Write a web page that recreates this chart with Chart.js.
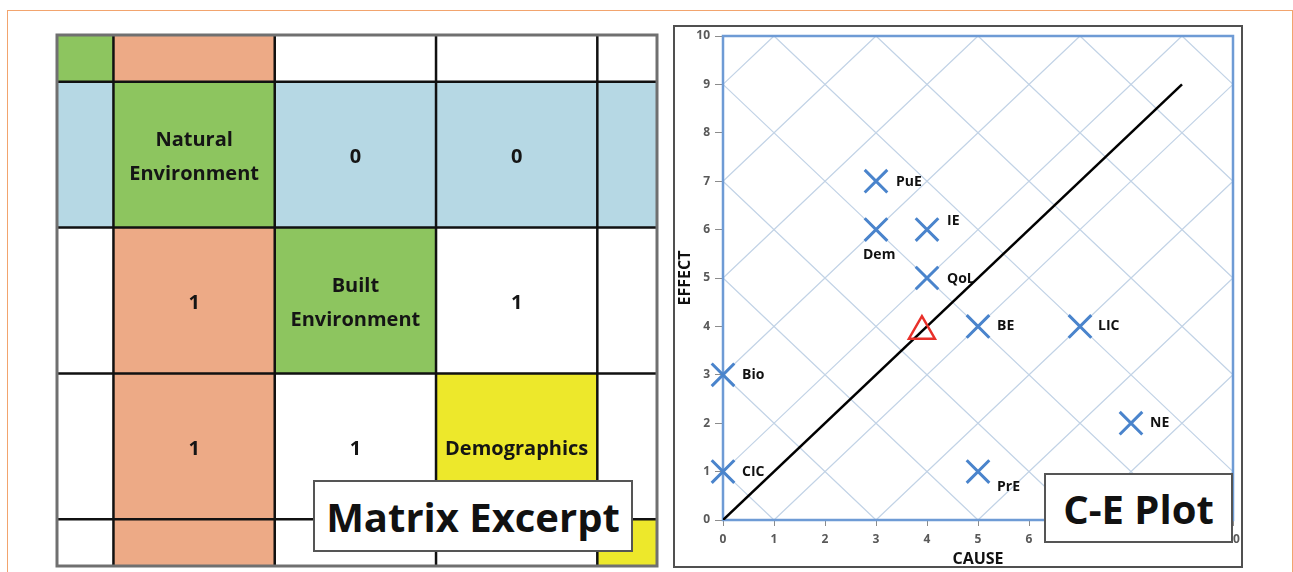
<!DOCTYPE html>
<html>
<head>
<meta charset="utf-8">
<script src="https://cdn.jsdelivr.net/npm/chart.js@4"></script>
<style>
  html, body { margin: 0; padding: 0; background: #fff; overflow: hidden; }
  body { width: 1293px; height: 572px; position: relative; font-family: 'Open Sans', sans-serif; }
  .page { position: absolute; left: 7px; top: 10px; width: 1286px; height: 600px; border: 1.5px solid #F2A46E; border-bottom: none; box-sizing: border-box; }
  #matrix { position: absolute; left: 50px; top: 28px; }
  .frame { position: absolute; left: 673px; top: 25px; width: 570px; height: 543px; border: 2px solid #505050; box-sizing: border-box; }
  #cePlot { position: absolute; left: 663px; top: 17px; }
  .tag { position: absolute; background: #fff; border: 2px solid #555; box-sizing: border-box;
         font-weight: 700; font-size: 40px; color: #111; display: flex; align-items: center; justify-content: center; }
</style>
</head>
<body>
<div class="page"></div>
<canvas id="matrix" width="614" height="544"></canvas>
<div class="tag" style="left:313px; top:480px; width:320px; height:72px;">Matrix Excerpt</div>
<div class="frame"></div>
<canvas id="cePlot" width="590" height="555"></canvas>
<div class="tag" style="left:1044px; top:473px; width:189px; height:70px;">C-E Plot</div>
<script>
// matrix excerpt: factor on the diagonal, links off the diagonal (outer rows/cols are cut off)
const factors = ['', 'Natural Environment', 'Built Environment', 'Demographics', ''];
const factorColors = ['#8DC55F', '#8DC55F', '#8DC55F', '#EDE82B', '#EDE82B'];
const links = [
  [null, null, null, null, null],
  [null, null, 0, 0, null],
  [null, 1, null, 1, null],
  [null, 1, 1, null, null],
  [null, null, null, null, null]
];
const focusFactor = 1;

// cause-effect plot
const codes = ['PuE', 'Dem', 'IE', 'QoL', 'BE', 'LIC', 'Bio', 'CIC', 'PrE', 'NE'];
const cause = [3, 3, 4, 4, 5, 7, 0, 0, 5, 8];
const effect = [7, 6, 6, 5, 4, 4, 3, 1, 1, 2];
const centroid = [3.9, 3.9];
const balanceLine = [[0, 0], [9, 9]];
const axisTicks = [0, 1, 2, 3, 4, 5, 6, 7, 8, 9, 10];

Chart.defaults.font.family = "'Open Sans', sans-serif";

const matrixCells = {
  id: 'matrixCells',
  beforeDatasetsDraw(chart) {
    const { ctx, chartArea: a, scales: { x, y } } = chart;
    const n = factors.length;
    ctx.save();
    ctx.beginPath();
    ctx.rect(a.left, a.top, a.width, a.height);
    ctx.clip();
    ctx.font = "bold 20px 'Open Sans'";
    ctx.textAlign = 'center';
    ctx.textBaseline = 'middle';
    for (let r = 0; r < n; r++) {
      for (let c = 0; c < n; c++) {
        const x0 = x.getPixelForValue(c), x1 = x.getPixelForValue(c + 1);
        const y0 = y.getPixelForValue(r), y1 = y.getPixelForValue(r + 1);
        let fill = '#fff';
        if (r === c) fill = factorColors[r];
        else if (r === focusFactor) fill = '#B6D8E4';
        else if (c === focusFactor) fill = '#EDAA86';
        ctx.fillStyle = fill;
        ctx.fillRect(x0, y0, x1 - x0, y1 - y0);

        let lines = [];
        if (r === c && factors[r]) lines = factors[r].split(' ');
        else if (r !== c && links[r][c] !== null) lines = [String(links[r][c])];
        const cx = (x0 + x1) / 2, cy = (y0 + y1) / 2 + 3;
        ctx.fillStyle = '#151515';
        lines.forEach((t, i) => {
          ctx.fillText(t, cx, cy + (i - (lines.length - 1) / 2) * 34);
        });
      }
    }
    ctx.strokeStyle = '#111';
    ctx.lineWidth = 2.5;
    ctx.beginPath();
    for (let k = 1; k < n; k++) {
      ctx.moveTo(x.getPixelForValue(k), a.top);
      ctx.lineTo(x.getPixelForValue(k), a.bottom);
      ctx.moveTo(a.left, y.getPixelForValue(k));
      ctx.lineTo(a.right, y.getPixelForValue(k));
    }
    ctx.stroke();
    ctx.restore();
    ctx.save();
    ctx.strokeStyle = '#707070';
    ctx.lineWidth = 3;
    ctx.strokeRect(a.left, a.top, a.width, a.height);
    ctx.restore();
  }
};

new Chart(document.getElementById('matrix'), {
  type: 'scatter',
  data: { datasets: [] },
  options: {
    responsive: false,
    animation: false,
    layout: { padding: { left: 7, top: 7, right: 7, bottom: 6 } },
    plugins: { legend: { display: false }, tooltip: { enabled: false } },
    scales: {
      x: { type: 'linear', display: false, min: 0.65, max: 4.37 },
      y: { type: 'linear', display: false, reverse: true, min: 0.68, max: 4.32 }
    }
  },
  plugins: [matrixCells]
});

// label offsets next to each cross (px)
const labelPlace = {
  PuE: [20, 1], Dem: [-13, 25], IE: [20, -9], QoL: [20, 1], BE: [19, 0],
  LIC: [18, 0], Bio: [19, 0], CIC: [19, 0], PrE: [19, 15], NE: [19, 0]
};

const diamondGrid = {
  id: 'diamondGrid',
  beforeDatasetsDraw(chart) {
    const { ctx, chartArea: a, scales: { x, y } } = chart;
    ctx.save();
    ctx.strokeStyle = '#C2D3E6';
    ctx.lineWidth = 1.2;
    ctx.beginPath();
    for (let k = 1; k <= 19; k += 2) { // x + y = k
      const xs = Math.max(0, k - 10), xe = Math.min(10, k);
      ctx.moveTo(x.getPixelForValue(xs), y.getPixelForValue(k - xs));
      ctx.lineTo(x.getPixelForValue(xe), y.getPixelForValue(k - xe));
    }
    for (let k = -9; k <= 9; k += 2) { // y - x = k
      const xs = Math.max(0, -k), xe = Math.min(10, 10 - k);
      ctx.moveTo(x.getPixelForValue(xs), y.getPixelForValue(xs + k));
      ctx.lineTo(x.getPixelForValue(xe), y.getPixelForValue(xe + k));
    }
    ctx.stroke();
    ctx.strokeStyle = '#6E9BD5';
    ctx.lineWidth = 2.5;
    ctx.strokeRect(a.left, a.top, a.width, a.height);

    // point labels
    const meta = chart.getDatasetMeta(1);
    ctx.font = "bold 14px 'Open Sans'";
    ctx.fillStyle = '#111';
    ctx.textAlign = 'left';
    ctx.textBaseline = 'middle';
    meta.data.forEach((pt, i) => {
      const [dx, dy] = labelPlace[codes[i]];
      ctx.fillText(codes[i], pt.x + dx, pt.y + dy);
    });
    ctx.restore();
  }
};

new Chart(document.getElementById('cePlot'), {
  type: 'scatter',
  data: {
    datasets: [
      {
        data: balanceLine.map(p => ({ x: p[0], y: p[1] })),
        showLine: true, pointRadius: 0, borderColor: '#000', borderWidth: 2.5, order: 3
      },
      {
        data: cause.map((c, i) => ({ x: c, y: effect[i] })),
        pointStyle: 'crossRot', pointRadius: 16, borderColor: '#4A84CC', borderWidth: 3, order: 1, clip: false
      },
      {
        data: [{ x: centroid[0], y: centroid[1] }],
        pointStyle: 'triangle', pointRadius: 15, borderColor: '#E8302A', backgroundColor: 'rgba(0,0,0,0)',
        borderWidth: 2.5, order: 2
      }
    ]
  },
  options: {
    responsive: false,
    animation: false,
    layout: { padding: { left: 0, top: 15, right: 20, bottom: 0 } },
    plugins: { legend: { display: false }, tooltip: { enabled: false } },
    scales: {
      x: {
        type: 'linear', min: 0, max: 10,
        afterBuildTicks: s => { s.ticks = axisTicks.map(v => ({ value: v })); },
        afterFit: s => { s.height = 52; },
        grid: { drawOnChartArea: false, drawTicks: true, tickLength: 6, tickColor: '#8C8C8C' },
        border: { display: false },
        ticks: { color: '#595959', font: { size: 12, weight: 'bold' }, padding: 6, maxRotation: 0 },
        title: { display: true, text: 'CAUSE', color: '#111', font: { size: 16, weight: 'bold' }, padding: { top: 0, bottom: 3 } }
      },
      y: {
        type: 'linear', min: 0, max: 10,
        afterBuildTicks: s => { s.ticks = axisTicks.map(v => ({ value: v })); },
        afterFit: s => { s.width = 60; },
        grid: { drawOnChartArea: false, drawTicks: true, tickLength: 8, tickColor: '#8C8C8C' },
        border: { display: false },
        ticks: { color: '#595959', font: { size: 12, weight: 'bold' }, padding: 5 },
        title: { display: true, text: 'EFFECT', color: '#111', font: { size: 16, weight: 'bold' }, padding: { top: 13, bottom: 0 } }
      }
    }
  },
  plugins: [diamondGrid]
});
</script>
</body>
</html>
